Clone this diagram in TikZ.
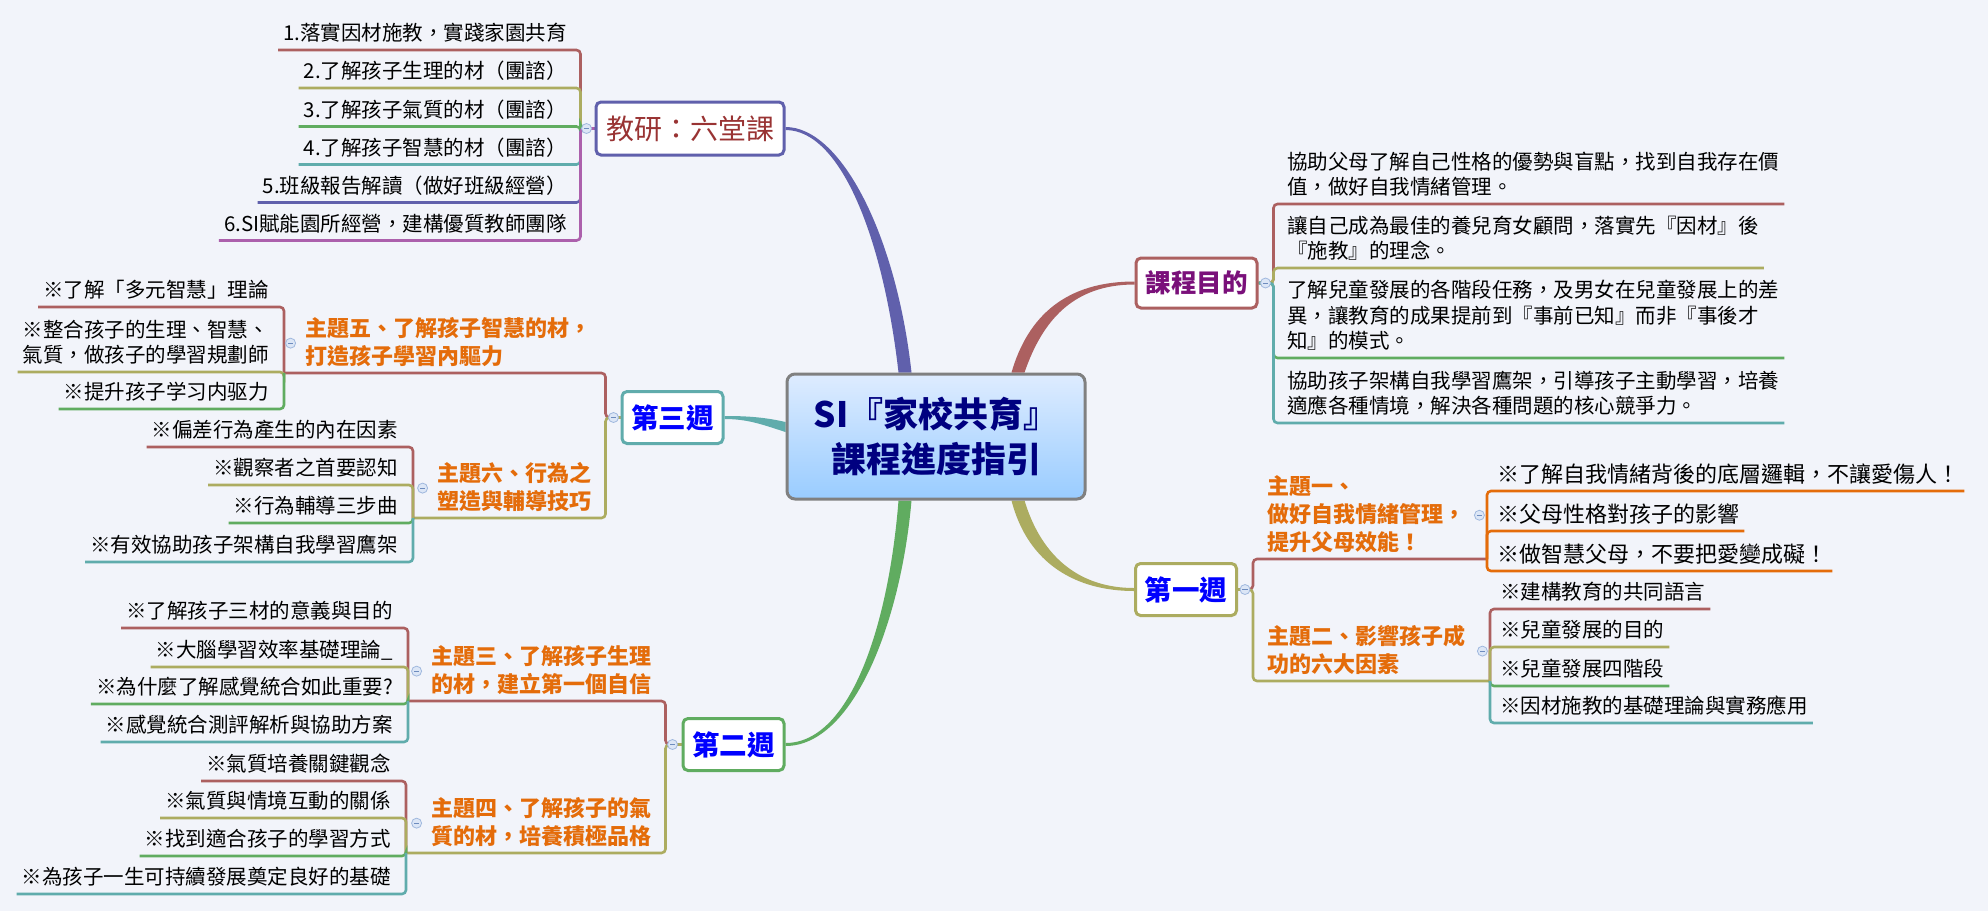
\documentclass[tikz,border=0pt]{standalone}
\usepackage{fontspec}
\setmainfont{Noto Sans CJK TC}
\usetikzlibrary{calc}
\definecolor{bgc}{RGB}{242,244,250}
\definecolor{cred}{RGB}{172,96,96}
\definecolor{colive}{RGB}{172,172,96}
\definecolor{cgreen}{RGB}{96,172,96}
\definecolor{cteal}{RGB}{96,172,172}
\definecolor{cpurple}{RGB}{96,96,172}
\definecolor{cviolet}{RGB}{172,96,172}
\definecolor{corange}{RGB}{228,108,10}
\definecolor{cdred}{RGB}{153,51,51}
\definecolor{cmag}{RGB}{122,16,122}
\definecolor{cnavy}{RGB}{0,0,128}
\definecolor{cgray}{RGB}{128,128,128}
\definecolor{ctop}{RGB}{222,236,255}
\definecolor{cbot}{RGB}{153,204,255}
\definecolor{foldf}{RGB}{220,230,246}
\definecolor{foldb}{RGB}{160,184,222}
\definecolor{foldm}{RGB}{110,140,190}
\newcommand\udp{\rule[-5pt]{0pt}{5pt}}
\pgfdeclarelayer{bgl}
\pgfdeclarelayer{lns}
\pgfsetlayers{bgl,lns,main}
\begin{document}
\begin{tikzpicture}[x=1pt,y=-1pt,
  itemL/.style={anchor=south east, font=\fontsize{20.5}{25.5}\selectfont, inner xsep=5pt, inner ysep=4.2pt, align=left, execute at end node=\udp},
  itemR/.style={itemL, anchor=south west},
  itemBig/.style={font=\fontsize{22}{27.5}\selectfont, inner ysep=3.6pt},
  topicL/.style={anchor=south east, font=\fontsize{22}{28}\selectfont\bfseries, text=corange, inner xsep=5pt, inner ysep=3.6pt, align=left, execute at end node=\udp},
  topicR/.style={topicL, anchor=south west},
  wk/.style={draw, line width=3pt, rounded corners=5pt, fill=white, minimum width=101pt, minimum height=52pt, inner sep=0pt, font=\fontsize{27.5}{30}\selectfont\bfseries, text=blue},
  ln/.style={line width=2.6pt, rounded corners=4pt},
  fold/.style={circle, draw=foldb, fill=foldf, line width=0.8pt, minimum size=10pt, inner sep=0pt,
    path picture={\draw[foldm, line width=0.9pt] ([xshift=-2.6pt]path picture bounding box.center) -- ([xshift=2.6pt]path picture bounding box.center);}}
]
\begin{pgfonlayer}{bgl}
\fill[bgc] (0,0) rectangle (1988,911);
\end{pgfonlayer}
\useasboundingbox (0,0) rectangle (1988,911);

% ---------- main boxes ----------
\node[draw=cgray, line width=3pt, rounded corners=8pt, top color=ctop, bottom color=cbot,
  minimum width=298pt, minimum height=125pt, inner sep=0pt, align=center,
  font=\fontsize{35}{45}\selectfont\bfseries, text=cnavy] (c) at (936,436.5) {SI『家校共育』\\課程進度指引};
\node[wk, draw=cpurple, minimum width=188pt, minimum height=53pt, text=cdred, font=\fontsize{28}{30}\selectfont] (jy) at (690,128.5) {教研：六堂課};
\node[wk, draw=cred, minimum width=121pt, minimum height=50pt, text=cmag, font=\fontsize{25.5}{28}\selectfont\bfseries] (kc) at (1196.5,283) {課程目的};
\node[wk, draw=cteal] (w3) at (672.5,417.5) {第三週};
\node[wk, draw=cgreen] (w2) at (733.5,744.5) {第二週};
\node[wk, draw=colive] (w1) at (1186,589.5) {第一週};

% ---------- topics ----------
\node[topicL] (t5) at (597,373) {主題五、了解孩子智慧的材，\\打造孩子學習內驅力};
\node[topicL] (t6) at (597,518) {主題六、行為之\\塑造與輔導技巧};
\node[topicL] (t3) at (657,701) {主題三、了解孩子生理\\的材，建立第一個自信};
\node[topicL] (t4) at (657,853) {主題四、了解孩子的氣\\質的材，培養積極品格};
\node[topicR] (t1) at (1262,559) {主題一、\\做好自我情緒管理，\\提升父母效能！};
\node[topicR] (t2) at (1262,681) {主題二、影響孩子成\\功的六大因素};

% ---------- items: 教研 ----------
\node[itemL] (j1) at (572,50) {1.落實因材施教，實踐家園共育};
\node[itemL] (j2) at (572,88) {2.了解孩子生理的材（團諮）};
\node[itemL] (j3) at (572,126.5) {3.了解孩子氣質的材（團諮）};
\node[itemL] (j4) at (572,164.5) {4.了解孩子智慧的材（團諮）};
\node[itemL] (j5) at (572,202.5) {5.班級報告解讀（做好班級經營）};
\node[itemL] (j6) at (572,240.5) {6.SI賦能園所經營，建構優質教師團隊};

% ---------- items: 主題五 ----------
\node[itemL] (f1) at (274,307) {※了解「多元智慧」理論};
\node[itemL] (f2) at (274,372) {※整合孩子的生理、智慧、\\氣質，做孩子的學習規劃師};
\node[itemL] (f3) at (274,409) {※提升孩子学习内驱力};

% ---------- items: 主題六 ----------
\node[itemL] (s1) at (403,447) {※偏差行為產生的內在因素};
\node[itemL] (s2) at (403,485) {※觀察者之首要認知};
\node[itemL] (s3) at (403,523) {※行為輔導三步曲};
\node[itemL] (s4) at (403,562) {※有效協助孩子架構自我學習鷹架};

% ---------- items: 主題三 ----------
\node[itemL] (h1) at (398,628) {※了解孩子三材的意義與目的};
\node[itemL] (h2) at (398,667) {※大腦學習效率基礎理論\_};
\node[itemL] (h3) at (398,704) {※為什麼了解感覺統合如此重要?};
\node[itemL] (h4) at (398,742) {※感覺統合測評解析與協助方案};

% ---------- items: 主題四 ----------
\node[itemL] (q1) at (396,781) {※氣質培養關鍵觀念};
\node[itemL] (q2) at (396,818) {※氣質與情境互動的關係};
\node[itemL] (q3) at (396,856) {※找到適合孩子的學習方式};
\node[itemL] (q4) at (396,894) {※為孩子一生可持續發展奠定良好的基礎};

% ---------- items: 課程目的 ----------
\node[itemR] (k1) at (1282,204) {協助父母了解自己性格的優勢與盲點，找到自我存在價\\值，做好自我情緒管理。};
\node[itemR] (k2) at (1282,268) {讓自己成為最佳的養兒育女顧問，落實先『因材』後\\『施教』的理念。};
\node[itemR] (k3) at (1282,358) {了解兒童發展的各階段任務，及男女在兒童發展上的差\\異，讓教育的成果提前到『事前已知』而非『事後才\\知』的模式。};
\node[itemR] (k4) at (1282,423) {協助孩子架構自我學習鷹架，引導孩子主動學習，培養\\適應各種情境，解決各種問題的核心競爭力。};

% ---------- items: 主題一 ----------
\node[itemR, itemBig] (o1) at (1492,491) {※了解自我情緒背後的底層邏輯，不讓愛傷人！};
\node[itemR, itemBig] (o2) at (1492,531) {※父母性格對孩子的影響};
\node[itemR, itemBig] (o3) at (1492,571) {※做智慧父母，不要把愛變成礙！};

% ---------- items: 主題二 ----------
\node[itemR] (p1) at (1495,609) {※建構教育的共同語言};
\node[itemR] (p2) at (1495,647) {※兒童發展的目的};
\node[itemR] (p3) at (1495,686) {※兒童發展四階段};
\node[itemR] (p4) at (1495,723) {※因材施教的基礎理論與實務應用};

% ---------- bracket coordinates ----------
\coordinate (bjy) at ($(jy.west)+(-14,0)$);
\coordinate (bkc) at ($(kc.east)+(15,0)$);
\coordinate (bw3) at ($(w3.west)+(-15,0)$);
\coordinate (bw2) at ($(w2.west)+(-16,0)$);
\coordinate (bw1) at ($(w1.east)+(15,0)$);
\coordinate (b5) at (284,373);
\coordinate (b6) at (413,518);
\coordinate (b3) at (408,701);
\coordinate (b4) at (406,853);
\coordinate (b1) at (1487,559);
\coordinate (b2) at (1490,681);

\coordinate (pA) at ($(c.north)+(-31,0)$);
\coordinate (rA) at ($(c.north)+(82,0)$);
\coordinate (gA) at ($(c.south)+(-31,0)$);
\coordinate (oA) at ($(c.south)+(82,0)$);
\coordinate (tA) at ($(c.west)+(0,-9.5)$);

\begin{pgfonlayer}{lns}
% main tapered branches
\fill[cpurple] ($(pA)+(-6.5,0)$) .. controls ($(pA)+(-21.5,-132)$) and ($(jy.east)+(56,1.5)$) .. ($(jy.east)+(0,1.5)$)
  -- ($(jy.east)+(0,-1.5)$) .. controls ($(jy.east)+(56,-1.5)$) and ($(pA)+(-8.5,-136)$) .. ($(pA)+(6.5,0)$) -- cycle;
\fill[cred] ($(rA)+(-6.5,0)$) .. controls ($(rA)+(10,-57)$) and ($(kc.west)+(-68,-1.5)$) .. ($(kc.west)+(0,-1.5)$)
  -- ($(kc.west)+(0,1.5)$) .. controls ($(kc.west)+(-62,1.5)$) and ($(rA)+(24,-51)$) .. ($(rA)+(6.5,0)$) -- cycle;
\fill[cgreen] ($(gA)+(-6.5,0)$) .. controls ($(gA)+(-16,121)$) and ($(w2.east)+(66,-1.5)$) .. ($(w2.east)+(0,-1.5)$)
  -- ($(w2.east)+(0,1.5)$) .. controls ($(w2.east)+(68,1.5)$) and ($(gA)+(-4,121)$) .. ($(gA)+(6.5,0)$) -- cycle;
\fill[colive] ($(oA)+(-6.5,0)$) .. controls ($(oA)+(10,64)$) and ($(w1.west)+(-57,1.5)$) .. ($(w1.west)+(0,1.5)$)
  -- ($(w1.west)+(0,-1.5)$) .. controls ($(w1.west)+(-53,-1.5)$) and ($(oA)+(24,58)$) .. ($(oA)+(6.5,0)$) -- cycle;
\fill[cteal] ($(tA)+(0,-5)$) .. controls ($(tA)+(-22,-10)$) and ($(w3.east)+(22,-1.5)$) .. ($(w3.east)+(0,-1.5)$)
  -- ($(w3.east)+(0,1.5)$) .. controls ($(w3.east)+(24,1.5)$) and ($(tA)+(-22,-2)$) .. ($(tA)+(0,5)$) -- cycle;

% 教研
\draw[ln,cred] (jy.west) -- (bjy) |- (j1.south west);
\draw[ln,colive] (jy.west) -- (bjy) |- (j2.south west);
\draw[ln,cgreen] (jy.west) -- (bjy) |- (j3.south west);
\draw[ln,cteal] (jy.west) -- (bjy) |- (j4.south west);
\draw[ln,cpurple] (jy.west) -- (bjy) |- (j5.south west);
\draw[ln,cviolet] (jy.west) -- (bjy) |- (j6.south west);

% 課程目的
\draw[ln,cred] (kc.east) -- (bkc) |- (k1.south east);
\draw[ln,colive] (kc.east) -- (bkc) |- (k2.south east);
\draw[ln,cgreen] (kc.east) -- (bkc) |- (k3.south east);
\draw[ln,cteal] (kc.east) -- (bkc) |- (k4.south east);

% 第三週
\draw[ln,cred] (w3.west) -- (bw3) |- (t5.south east) -- (b5);
\draw[ln,colive] (w3.west) -- (bw3) |- (t6.south east) -- (b6);
\draw[ln,cred] (b5) |- (f1.south west);
\draw[ln,colive] (b5) |- (f2.south west);
\draw[ln,cgreen] (b5) |- (f3.south west);
\draw[ln,cred] (b6) |- (s1.south west);
\draw[ln,colive] (b6) |- (s2.south west);
\draw[ln,cgreen] (b6) |- (s3.south west);
\draw[ln,cteal] (b6) |- (s4.south west);

% 第二週
\draw[ln,cred] (w2.west) -- (bw2) |- (t3.south east) -- (b3);
\draw[ln,colive] (w2.west) -- (bw2) |- (t4.south east) -- (b4);
\draw[ln,cred] (b3) |- (h1.south west);
\draw[ln,colive] (b3) |- (h2.south west);
\draw[ln,cgreen] (b3) |- (h3.south west);
\draw[ln,cteal] (b3) |- (h4.south west);
\draw[ln,cred] (b4) |- (q1.south west);
\draw[ln,colive] (b4) |- (q2.south west);
\draw[ln,cgreen] (b4) |- (q3.south west);
\draw[ln,cteal] (b4) |- (q4.south west);

% 第一週
\draw[ln,cred] (w1.east) -- (bw1) |- (t1.south west) -- (b1);
\draw[ln,colive] (w1.east) -- (bw1) |- (t2.south west) -- (b2);
\draw[ln,corange] (b1) |- (o1.south east);
\draw[ln,corange] (b1) |- (o2.south east);
\draw[ln,corange] (b1) |- (o3.south east);
\draw[ln,cred] (b2) |- (p1.south east);
\draw[ln,colive] (b2) |- (p2.south east);
\draw[ln,cgreen] (b2) |- (p3.south east);
\draw[ln,cteal] (b2) |- (p4.south east);
\end{pgfonlayer}

% ---------- fold markers ----------
\node[fold] (fjy) at ($(jy.west)+(-8,0)$) {};
\node[fold] (fkc) at ($(kc.east)+(7,0)$) {};
\node[fold] (fw3) at ($(w3.west)+(-7,0)$) {};
\node[fold] (fw2) at ($(w2.west)+(-9,0)$) {};
\node[fold] (fw1) at ($(w1.east)+(7,0)$) {};
\node[fold] (ft5) at ($(t5.west)+(-10,0)$) {};
\node[fold] (ft6) at ($(t6.west)+(-10,0)$) {};
\node[fold] (ft3) at ($(t3.west)+(-10,0)$) {};
\node[fold] (ft4) at ($(t4.west)+(-10,0)$) {};
\node[fold] (ft1) at ($(t1.east)+(9,0)$) {};
\node[fold] (ft2) at ($(t2.east)+(12,0)$) {};
\end{tikzpicture}
\end{document}
